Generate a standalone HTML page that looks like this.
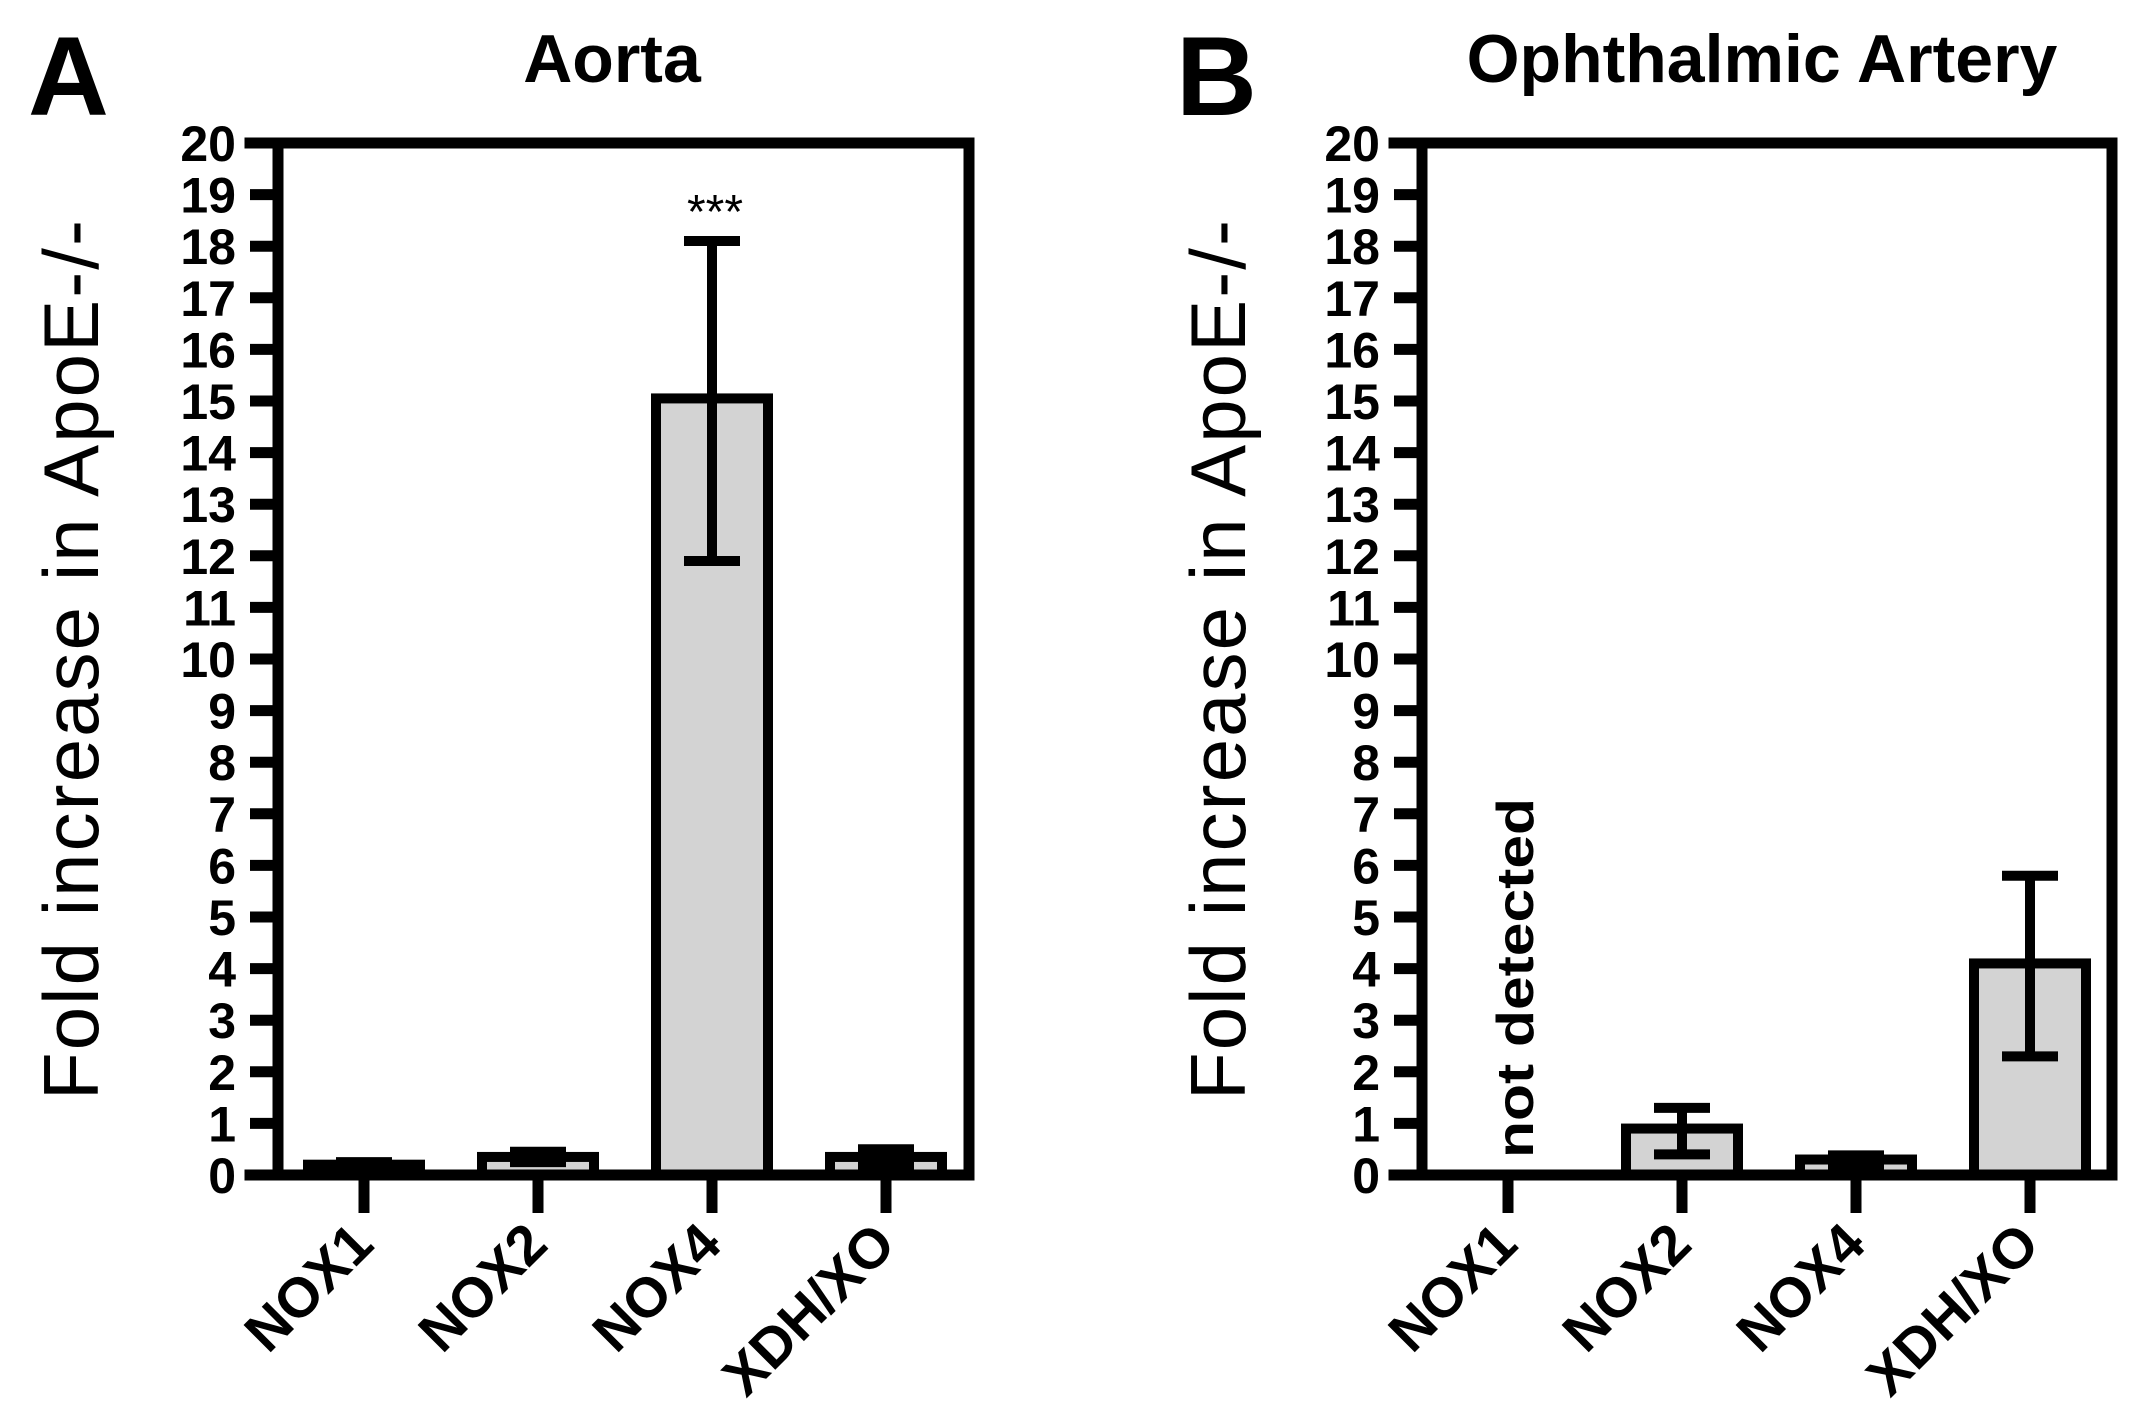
<!DOCTYPE html>
<html><head><meta charset="utf-8"><style>
html,body{margin:0;padding:0;background:#fff}
svg{display:block;font-family:"Liberation Sans",Arial,sans-serif}
</style></head><body>
<svg id="fig" width="2148" height="1427" viewBox="0 0 2148 1427">
<text x="28" y="115" font-size="112" font-weight="bold">A</text>
<text x="1176" y="115" font-size="112" font-weight="bold">B</text>
<text x="612" y="82" font-size="68" font-weight="bold" text-anchor="middle">Aorta</text>
<text x="1762" y="82" font-size="68" font-weight="bold" text-anchor="middle">Ophthalmic Artery</text>
<text transform="translate(98,660) rotate(-90)" font-size="78" text-anchor="middle" textLength="880">Fold increase in ApoE-/-</text>
<text transform="translate(1245,660) rotate(-90)" font-size="78" text-anchor="middle" textLength="880">Fold increase in ApoE-/-</text>
<text x="715" y="228" font-size="48" text-anchor="middle">***</text>
<text transform="translate(1533,1158) rotate(-90)" font-size="52" font-weight="bold" textLength="360" lengthAdjust="spacingAndGlyphs">not detected</text>
</svg>
<script>
const categories = ["NOX1","NOX2","NOX4","XDH/XO"];
const yTicks = [0,1,2,3,4,5,6,7,8,9,10,11,12,13,14,15,16,17,18,19,20];
const aortaMean = [0.2, 0.35, 15.05, 0.35];
const aortaHigh = [0.25, 0.45, 18.1, 0.5];
const aortaLow = [0.15, 0.25, 11.9, 0.2];
const ophMean = [null, 0.9, 0.3, 4.1];
const ophHigh = [null, 1.3, 0.38, 5.8];
const ophLow = [null, 0.4, 0.2, 2.3];

const NS = "http://www.w3.org/2000/svg";
const svg = document.getElementById("fig");
function mk(tag, attrs, parent){
  const e = document.createElementNS(NS, tag);
  for (const k in attrs) e.setAttribute(k, attrs[k]);
  (parent||svg).appendChild(e);
  return e;
}
function panel(left, right, mean, hi, lo, key){
  const top = 143, bottom = 1175;
  const yS = v => bottom - (v/20)*(bottom-top);
  const band = 174, x0 = left + 87 - 1;
  const xS = i => x0 + i*band;
  const g = mk("g", {});
  
  
  const bw = 112;
  mean.forEach((v,i)=>{
    if (v === null) return;
    const r = mk("rect", {x: xS(i)-bw/2, y: yS(v), width: bw, height: bottom - yS(v), fill:"#d3d3d3", stroke:"#000", "stroke-width":10}, g);
    
    
    const eg = mk("g", {stroke:"#000","stroke-width":10,fill:"none"}, g);
    
    
    mk("line",{x1:xS(i),x2:xS(i),y1:yS(hi[i]),y2:yS(lo[i])},eg);
    mk("line",{x1:xS(i)-28,x2:xS(i)+28,y1:yS(hi[i]),y2:yS(hi[i])},eg);
    mk("line",{x1:xS(i)-28,x2:xS(i)+28,y1:yS(lo[i]),y2:yS(lo[i])},eg);
  });
  const ax = mk("g",{stroke:"#000","stroke-width":11,fill:"none"}, g);
  
  
  mk("path",{d:`M${left-28},${top} H${right} V${bottom} H${left-28} M${left},${top} V${bottom}`,"stroke-linecap":"square"},ax);
  yTicks.forEach(t=>{
    mk("line",{x1:left-28,x2:left,y1:yS(t),y2:yS(t)},ax);
    const tl = mk("text",{x:left-42,y:yS(t)+18,"font-size":50,"font-weight":"bold","text-anchor":"end",fill:"#000",stroke:"none"},g);
    tl.textContent = t;
    
    
  });
  categories.forEach((c,i)=>{
    mk("line",{x1:xS(i),x2:xS(i),y1:bottom,y2:bottom+38},ax);
    const xl = mk("text",{transform:`translate(${xS(i)+12},${bottom+72}) rotate(-45)`,"font-size":56,"font-weight":"bold","text-anchor":"end",fill:"#000"},g);
    xl.textContent = c;
    
    
  });
}
panel(278, 969, aortaMean, aortaHigh, aortaLow, "aorta");
panel(1422, 2112, ophMean, ophHigh, ophLow, "ophthalmic");
</script>
</body></html>
